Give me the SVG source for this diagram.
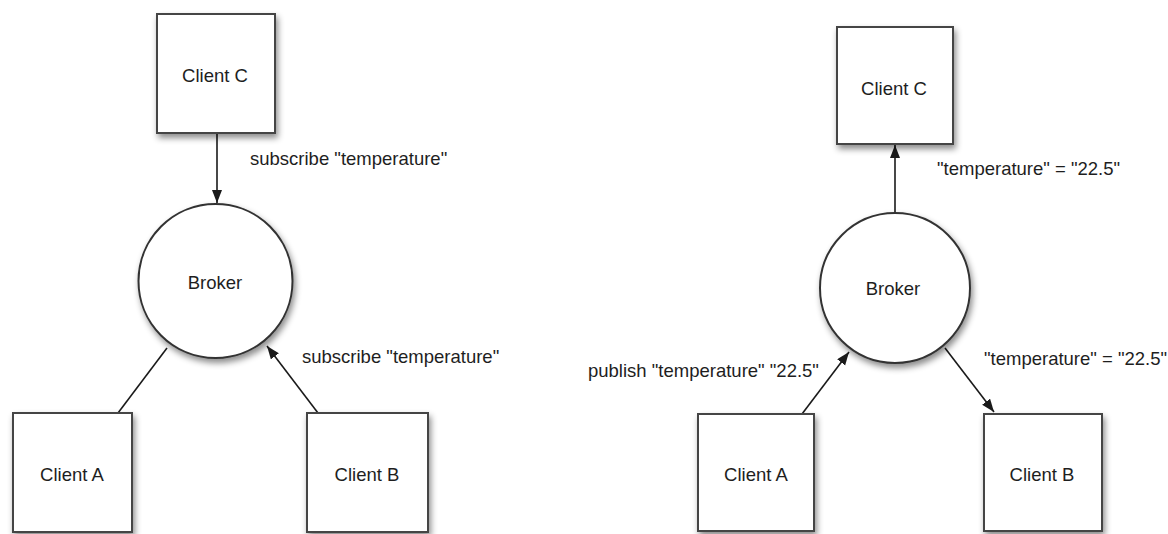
<svg xmlns="http://www.w3.org/2000/svg" width="1168" height="534" viewBox="0 0 1168 534">
  <style>
    .box { fill: #ffffff; stroke: #444444; stroke-width: 2; filter: url(#shadow); }
    .hub { fill: #ffffff; stroke: #333333; stroke-width: 2; filter: url(#shadow); }
    .label { font-family: "Liberation Sans", Arial, sans-serif; font-size: 18.5px; fill: #1e1e1e; }
    .node-text { font-family: "Liberation Sans", Arial, sans-serif; font-size: 18.5px; fill: #1e1e1e; text-anchor: middle; }
    .edge { stroke: #1a1a1a; stroke-width: 1.6; fill: none; }
    .edge.arrow { marker-end: url(#head); }
  </style>
  <defs>
    <filter id="shadow" x="-20%" y="-20%" width="150%" height="150%">
      <feDropShadow dx="2" dy="4" stdDeviation="3" flood-color="#000000" flood-opacity="0.45"/>
    </filter>
    <marker id="head" markerUnits="userSpaceOnUse" markerWidth="14" markerHeight="12" refX="13" refY="5" orient="auto">
      <path d="M0,0 L13,5 L0,10 Z" fill="#1a1a1a"/>
    </marker>
  </defs>
  <rect width="1168" height="534" fill="#ffffff"/>

  <!-- connectors -->
  <g id="connectors">
    <!-- subscribe side -->
    <line class="edge arrow" x1="217" y1="134" x2="217" y2="203"/>
    <line class="edge" x1="118" y1="413" x2="167" y2="348"/>
    <line class="edge arrow" x1="318" y1="413" x2="267" y2="346"/>
    <!-- publish side -->
    <line class="edge arrow" x1="895" y1="213" x2="895" y2="145"/>
    <line class="edge arrow" x1="802" y1="414" x2="849" y2="352"/>
    <line class="edge arrow" x1="945" y1="348" x2="994" y2="412"/>
  </g>

  <!-- connector labels -->
  <g id="edge-labels">
    <text class="label" x="250" y="164.5">subscribe "temperature"</text>
    <text class="label" x="302" y="362.5">subscribe "temperature"</text>
    <text class="label" x="937" y="174.5">"temperature" = "22.5"</text>
    <text class="label" x="588" y="376.5">publish "temperature" "22.5"</text>
    <text class="label" x="984" y="364.5">"temperature" = "22.5"</text>
  </g>

  <!-- subscribe side nodes -->
  <g id="sub-client-c">
    <rect class="box" x="157" y="14" width="118" height="119"/>
    <text class="node-text" x="215" y="81.5">Client C</text>
  </g>
  <g id="sub-broker">
    <circle class="hub" cx="215.5" cy="281" r="77"/>
    <text class="node-text" x="215" y="288.5">Broker</text>
  </g>
  <g id="sub-client-a">
    <rect class="box" x="13" y="413" width="119" height="119"/>
    <text class="node-text" x="72" y="480.5">Client A</text>
  </g>
  <g id="sub-client-b">
    <rect class="box" x="307" y="413" width="121" height="119"/>
    <text class="node-text" x="367" y="480.5">Client B</text>
  </g>

  <!-- publish side nodes -->
  <g id="pub-client-c">
    <rect class="box" x="837" y="27" width="116" height="117"/>
    <text class="node-text" x="894" y="94.5">Client C</text>
  </g>
  <g id="pub-broker">
    <circle class="hub" cx="895" cy="288" r="75"/>
    <text class="node-text" x="893" y="294.5">Broker</text>
  </g>
  <g id="pub-client-a">
    <rect class="box" x="698" y="414" width="116" height="117"/>
    <text class="node-text" x="756" y="480.5">Client A</text>
  </g>
  <g id="pub-client-b">
    <rect class="box" x="984" y="414" width="118" height="117"/>
    <text class="node-text" x="1042" y="480.5">Client B</text>
  </g>
</svg>
